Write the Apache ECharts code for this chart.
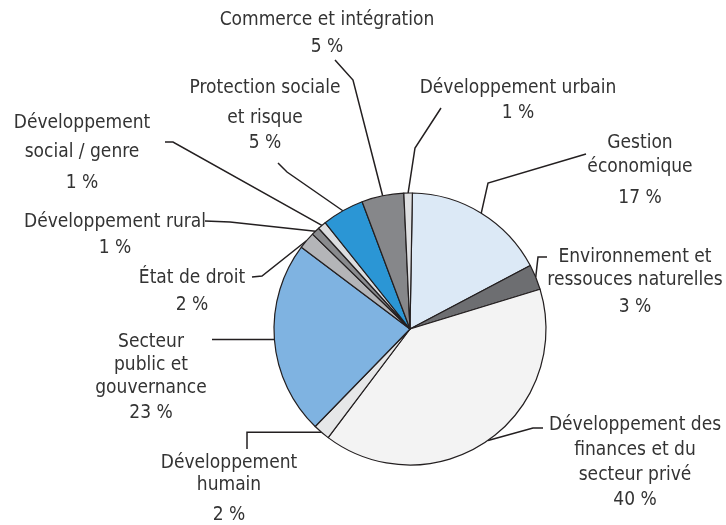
<!DOCTYPE html>
<html>
<head>
<meta charset="utf-8">
<script src="https://cdn.jsdelivr.net/npm/echarts@6/dist/echarts.min.js"></script>
<style>
  html, body { margin: 0; padding: 0; background: #ffffff; }
  #chart { width: 726px; height: 525px; }
</style>
</head>
<body>
<div id="chart"></div>
<script>
// Sector names, clockwise from the top of the pie
const sectors = [
  'Gestion\néconomique',
  'Environnement et\nressouces naturelles',
  'Développement des\nfinances et du\nsecteur privé',
  'Développement\nhumain',
  'Secteur\npublic et\ngouvernance',
  'État de droit',
  'Développement rural',
  'Développement\nsocial / genre',
  'Protection sociale\net risque',
  'Commerce et intégration',
  'Développement urbain'
];

// Share of each sector, in percent
const shares = [17, 3, 40, 2, 23, 2, 1, 1, 5, 5, 1];

// Slice fill colours
const sliceColors = [
  '#dce9f6', '#6d6e71', '#f3f3f3', '#e6e7e8', '#7fb3e1',
  '#b4b5b8', '#8a8b8e', '#dcdddf', '#2b96d5', '#86878a', '#dfe0e2'
];

// Label placement: x = text centre, y = centre of first line,
// lh = line height of the name, gap = distance to the percent line,
// guide(e) = leader line points starting from the slice edge point e
const labelPlacement = [
  { x: 640, y: 143, lh: 24, gap: 31, guide: e => [e, [488, 183], [586, 154]] },
  { x: 635, y: 257, lh: 23, gap: 27, guide: e => [e, [538, 257], [547, 257]] },
  { x: 635, y: 425, lh: 25, gap: 25, guide: e => [e, [533, 428], [543, 428]] },
  { x: 229, y: 463, lh: 22, gap: 30, guide: e => [e, [247, e[1]], [247, 449]] },
  { x: 151, y: 342, lh: 23, gap: 25, guide: e => [e, [212, e[1]]] },
  { x: 192, y: 278, lh: 24, gap: 27, guide: e => [e, [262, 276], [252, 277]] },
  { x: 115, y: 222, lh: 24, gap: 26, guide: e => [e, [230, 222], [205, 221]] },
  { x: 82,  y: 123, lh: 29, gap: 31, guide: e => [e, [173, 142], [165, 142]] },
  { x: 265, y: 88,  lh: 30, gap: 25, guide: e => [e, [287, 172], [278, 163]] },
  { x: 327, y: 20,  lh: 24, gap: 27, guide: e => [e, [353, 80], [335, 60]] },
  { x: 518, y: 88,  lh: 24, gap: 25, guide: e => [e, [415, 148], [441, 108]] }
];

const FONT = "'DejaVu Sans Condensed', 'Liberation Sans Narrow', sans-serif";
const FONT_SIZE = 19;
const INK = '#231f20';

const pieData = sectors.map((name, i) => {
  const p = labelPlacement[i];
  return {
    name: name,
    value: shares[i],
    itemStyle: { color: sliceColors[i] },
    label: {
      rich: {
        n: { fontFamily: FONT, fontSize: FONT_SIZE, color: '#333', lineHeight: p.lh, align: 'center' },
        p: { fontFamily: FONT, fontSize: FONT_SIZE, color: '#333', lineHeight: 2 * p.gap - p.lh, align: 'center' }
      }
    }
  };
});

const chart = echarts.init(document.getElementById('chart'), null, { renderer: 'canvas' });

chart.setOption({
  backgroundColor: '#ffffff',
  animation: false,
  series: [{
    type: 'pie',
    center: [410, 329],
    radius: 136,
    startAngle: 89,
    clockwise: true,
    avoidLabelOverlap: false,
    data: pieData,
    itemStyle: { borderColor: INK, borderWidth: 1.2 },
    emphasis: { disabled: true },
    label: {
      show: true,
      position: 'outside',
      formatter: params => '{n|' + params.name + '}\n{p|' + params.value + ' %}'
    },
    labelLine: {
      show: true,
      length: 10,
      length2: 10,
      smooth: false,
      lineStyle: { color: INK, width: 1.5 }
    },
    labelLayout: params => {
      const p = labelPlacement[params.dataIndex];
      const edge = params.labelLinePoints[0];
      return {
        x: p.x,
        y: p.y - p.lh / 2,
        align: 'center',
        verticalAlign: 'top',
        labelLinePoints: p.guide([edge[0], edge[1]])
      };
    }
  }]
});
</script>
</body>
</html>
